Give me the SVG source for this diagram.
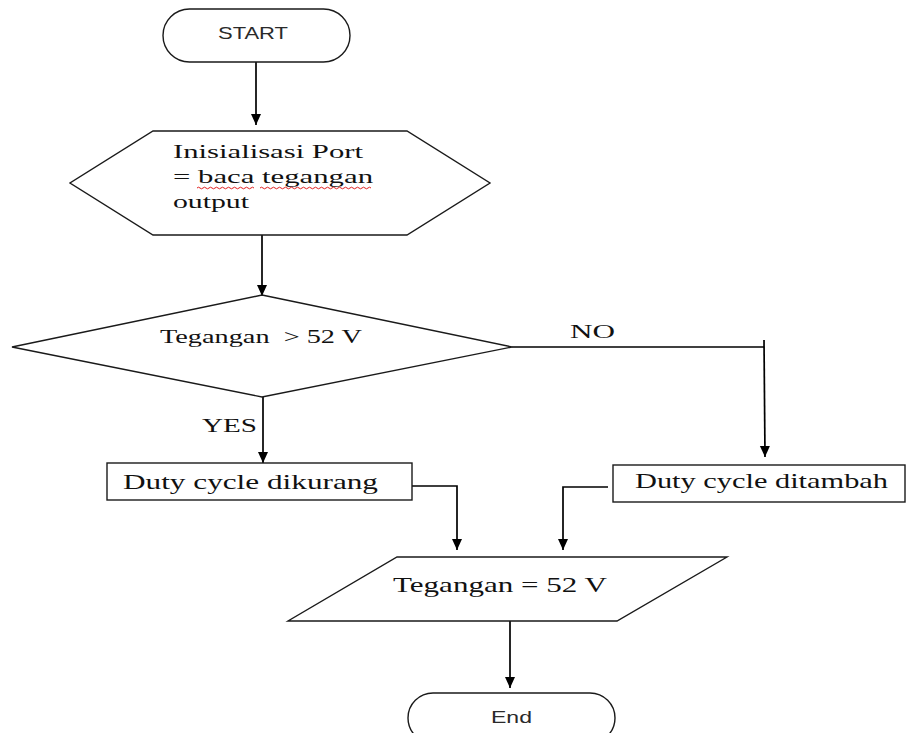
<svg xmlns="http://www.w3.org/2000/svg" width="907" height="733" viewBox="0 0 907 733">
<style>
.shape{fill:#fff;stroke:#1a1a1a;stroke-width:1.4}
.conn{fill:none;stroke:#000;stroke-width:1.7}
.serif{font-family:"Liberation Serif","Times New Roman",serif;fill:#111}
.sans{font-family:"Liberation Sans",Arial,sans-serif;fill:#2a2a2a}
.sq{fill:none;stroke:#e02020;stroke-width:1}
</style>
<defs>
<marker id="arr" markerUnits="userSpaceOnUse" markerWidth="11" markerHeight="11" viewBox="0 0 11 11" refX="11" refY="5.5" orient="auto">
<path d="M0,0.5 L11,5.5 L0,10.5 z" fill="#000"/>
</marker>
</defs>
<g id="connectors">
<line class="conn" x1="256" y1="62" x2="256" y2="125" marker-end="url(#arr)"/>
<line class="conn" x1="262" y1="235" x2="262" y2="296" marker-end="url(#arr)"/>
<line class="conn" x1="263" y1="397" x2="263" y2="463" marker-end="url(#arr)"/>
<line class="conn" x1="512" y1="347" x2="764" y2="347"/>
<line class="conn" x1="764" y1="340" x2="765" y2="457" marker-end="url(#arr)"/>
<polyline class="conn" points="405,486 457,486 457,550" marker-end="url(#arr)"/>
<polyline class="conn" points="608,487 563,487 563,550" marker-end="url(#arr)"/>
<line class="conn" x1="510" y1="621" x2="510" y2="688" marker-end="url(#arr)"/>
<text class="serif" x="570" y="338" font-size="18" textLength="45" lengthAdjust="spacingAndGlyphs">NO</text>
<text class="serif" x="202" y="432" font-size="18" textLength="55" lengthAdjust="spacingAndGlyphs">YES</text>
</g>
<g id="start">
<rect class="shape" x="163" y="9" width="187" height="53" rx="26.5"/>
<text class="sans" x="218" y="39" font-size="16.5" textLength="70" lengthAdjust="spacingAndGlyphs">START</text>
</g>
<g id="init">
<polygon class="shape" points="153,131 407,131 490,183 407,235 153,235 70,183"/>
<text class="serif" x="173" y="158" font-size="19" textLength="190" lengthAdjust="spacingAndGlyphs">Inisialisasi Port</text>
<text class="serif" x="173" y="183" font-size="19" textLength="200" lengthAdjust="spacingAndGlyphs">= baca tegangan</text>
<text class="serif" x="173" y="208" font-size="19" textLength="76" lengthAdjust="spacingAndGlyphs">output</text>
<path class="sq" d="M197,188 q1.5,-1.6 3,0 t3,0 t3,0 t3,0 t3,0 t3,0 t3,0 t3,0 t3,0 t3,0 t3,0 t3,0 t3,0 t3,0 t3,0 t3,0 t3,0 t3,0 t3,0"/>
<path class="sq" d="M260,188 q1.5,-1.6 3,0 t3,0 t3,0 t3,0 t3,0 t3,0 t3,0 t3,0 t3,0 t3,0 t3,0 t3,0 t3,0 t3,0 t3,0 t3,0 t3,0 t3,0 t3,0 t3,0 t3,0 t3,0 t3,0 t3,0 t3,0 t3,0 t3,0 t3,0 t3,0 t3,0 t3,0 t3,0 t3,0 t3,0 t3,0 t3,0 t3,0"/>
</g>
<g id="decision">
<polygon class="shape" points="262,295 512,347 262,397 12,347"/>
<text class="serif" x="160" y="343" font-size="18" textLength="202" lengthAdjust="spacingAndGlyphs" xml:space="preserve" style="white-space:pre">Tegangan  &gt; 52 V</text>
</g>
<g id="dikurang">
<rect class="shape" x="107" y="463" width="305" height="37"/>
<text class="serif" x="123" y="489" font-size="21" textLength="255" lengthAdjust="spacingAndGlyphs">Duty cycle dikurang</text>
</g>
<g id="ditambah">
<rect class="shape" x="613" y="465" width="292" height="37"/>
<text class="serif" x="635" y="488" font-size="21" textLength="253" lengthAdjust="spacingAndGlyphs">Duty cycle ditambah</text>
</g>
<g id="output">
<polygon class="shape" points="397,557 727,557 617,621 288,621"/>
<text class="serif" x="393" y="592" font-size="21" textLength="214" lengthAdjust="spacingAndGlyphs">Tegangan = 52 V</text>
</g>
<g id="end">
<rect class="shape" x="408" y="693" width="207" height="50" rx="25"/>
<text class="sans" x="491" y="723" font-size="17" textLength="41" lengthAdjust="spacingAndGlyphs">End</text>
</g>
</svg>
